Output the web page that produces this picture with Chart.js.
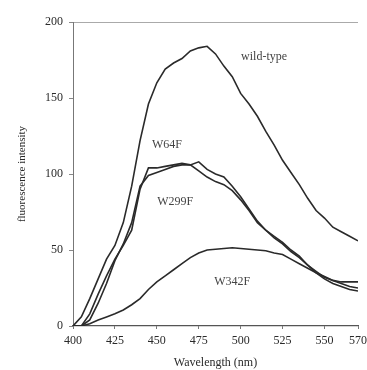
<!DOCTYPE html>
<html>
<head>
<meta charset="utf-8">
<script src="https://cdn.jsdelivr.net/npm/chart.js@4.4.1/dist/chart.umd.min.js"></script>
<style>
  html, body { margin: 0; padding: 0; background: #fff; }
  #wrap { width: 367px; height: 370px; }
</style>
</head>
<body>
<div id="wrap"><canvas id="myChart" width="367" height="370"></canvas></div>
<script>
// wavelength (nm), every 5 nm
var wavelength = [400,405,410,415,420,425,430,435,440,445,450,455,460,465,470,475,480,485,
                  490,495,500,505,510,515,520,525,530,535,540,545,550,555,560,565,570];

var wildType = [0,6,18,31,44,53,68,92,122,146,160,169,173,176,181,183,184,179,
                171,164,153,146,138,128,119,109,101,93,84,76,71,65,62,59,56];
var w64f     = [0,0,8,21,33,44,53,63,90,104,104,105,106,107,106,108,103,100,
                98,92,85,77,69,63,59,55,50,46,40,36,32,30,29,29,29];
var w299f    = [0,0,4,15,28,43,54,68,92,99,101,103,105,106,106,102,98,95,
                93,89,83,76,68,63,58,54,49,45,40,35,31,28,26,24,23];
var w342f    = [0,0,1.5,4,6,8,10.5,14,18,24,29,33,37,41,45,48,50,50.5,
                51,51.5,51,50.5,50,49.5,48,47,44,41,38,35,32.5,30,28,26,25];

var xTicks = [400,425,450,475,500,525,550,570];

// curve names written on the plot (x in nm, y in intensity)
var curveLabels = [
    { text: 'wild-type', x: 514, y: 177 },
    { text: 'W64F', x: 456, y: 119 },
    { text: 'W299F', x: 461, y: 82 },
    { text: 'W342F', x: 495, y: 29 }
];

var serif = "'Liberation Serif', 'DejaVu Serif', serif";
var ink = '#2a2a2a';

function pts(ys) {
    return wavelength.map(function (w, i) { return { x: w, y: ys[i] }; });
}

function line(name, ys) {
    return {
        label: name,
        data: pts(ys),
        borderColor: ink,
        borderWidth: 1.6,
        pointRadius: 0,
        tension: 0,
        fill: false
    };
}

// writes the curve names inside the plot
var curveText = {
    id: 'curveText',
    afterDatasetsDraw: function (chart) {
        var c = chart.ctx, xs = chart.scales.x, ys = chart.scales.y;
        c.save();
        c.fillStyle = '#444';
        c.font = '12px ' + serif;
        c.textAlign = 'center';
        c.textBaseline = 'middle';
        curveLabels.forEach(function (l) {
            c.fillText(l.text, xs.getPixelForValue(l.x), ys.getPixelForValue(l.y));
        });
        c.restore();
    }
};

var ctx = document.getElementById('myChart').getContext('2d');
var chart = new Chart(ctx, {
    type: 'line',
    data: {
        datasets: [
            line('wild-type', wildType),
            line('W64F', w64f),
            line('W299F', w299f),
            line('W342F', w342f)
        ]
    },
    options: {
        responsive: false,
        animation: false,
        layout: { padding: { top: 22, right: 9, left: 16, bottom: 0 } },
        plugins: {
            legend: { display: false },
            tooltip: { enabled: false }
        },
        scales: {
            x: {
                type: 'linear',
                min: 400,
                max: 570,
                afterBuildTicks: function (axis) {
                    axis.ticks = xTicks.map(function (v) { return { value: v }; });
                },
                afterFit: function (axis) {
                    axis.height = 44;
                    axis.paddingRight = 0;
                },
                border: { color: '#555', width: 1.2 },
                grid: { drawOnChartArea: false, tickLength: 3, color: '#777' },
                ticks: {
                    color: ink,
                    font: { family: serif, size: 12 },
                    padding: 5,
                    maxRotation: 0,
                    autoSkip: false
                },
                title: {
                    display: true,
                    text: 'Wavelength (nm)',
                    color: ink,
                    font: { family: serif, size: 12 },
                    padding: { top: 0, bottom: 0 }
                }
            },
            y: {
                min: 0,
                max: 200,
                afterFit: function (axis) { axis.width = 57; },
                border: { color: '#777', width: 1 },
                grid: {
                    tickLength: 4,
                    color: function (c) { return c.tick && c.tick.value === 200 ? '#aaa' : 'rgba(0,0,0,0)'; },
                    tickColor: '#888'
                },
                ticks: {
                    stepSize: 50,
                    color: ink,
                    font: { family: serif, size: 12 },
                    padding: 6
                },
                title: {
                    display: true,
                    text: 'fluorescence intensity',
                    color: ink,
                    font: { family: serif, size: 11 },
                    padding: { top: 0, bottom: 10 }
                }
            }
        }
    },
    plugins: [curveText]
});
</script>
</body>
</html>
